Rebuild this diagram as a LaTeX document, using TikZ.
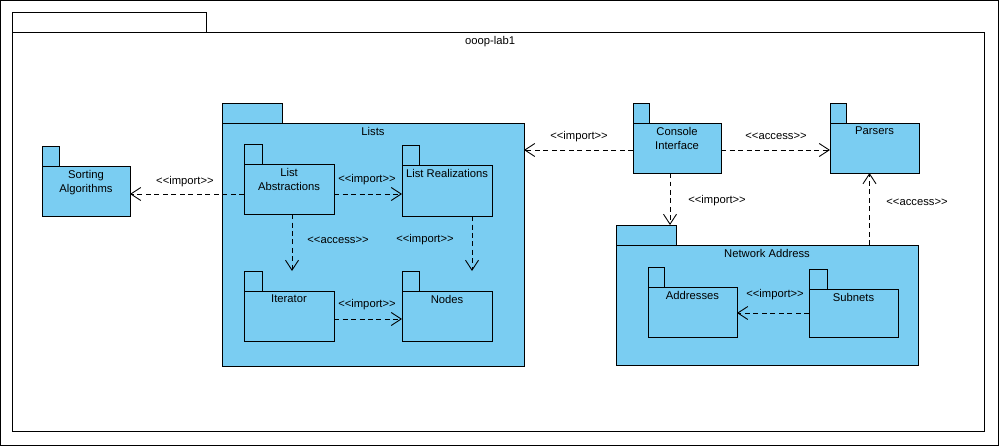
\documentclass[tikz,border=0pt]{standalone}
\usepackage{fontspec}
\setmainfont{Liberation Sans}
\usetikzlibrary{arrows.meta, calc}

\definecolor{pkgblue}{RGB}{122,205,242}
\newcommand{\vpfont}{\fontsize{6.4}{8.4}\selectfont}
\newcommand{\stereo}[1]{<{}<#1>{}>}

\begin{document}
\begin{tikzpicture}[
        x=0.02cm, y=-0.02cm,
        line width=0.5pt,
        pkg/.style 2 args={draw, fill=pkgblue, anchor=north west,
            inner sep=0pt, outer sep=0pt,
            minimum width=#1*0.02cm, minimum height=#2*0.02cm},
        tab/.style={pkg={#1}{20}},
        ptext/.style={anchor=north, align=center, inner sep=2pt, font=\vpfont},
        lbl/.style={font=\vpfont, inner sep=1pt},
        dep/.style={dashed, dash pattern=on 1mm off 0.7mm,
            -{Straight Barb[length=2mm, width=2.6mm, line width=0.5pt]}},
    ]
    \useasboundingbox (0,0) rectangle (999,446);

    % =============================================
    % MODEL FRAME
    % =============================================
    \draw (0.5,0.5) rectangle (998.5,445.5);

    \node[tab=194, fill=white]      (labT) at (12,12) {};
    \node[pkg={972}{399}, fill=white] (lab) at (12,32) {};
    \node[ptext] (labL) at (490,32) {ooop-lab1};

    % =============================================
    % LISTS
    % =============================================
    \node[tab=60]         (listsT) at (222,103) {};
    \node[pkg={302}{243}] (lists)  at (222,123) {};
    \node[ptext] (listsL) at (lists.north) {Lists};

    \node[tab=18]        (absT) at (244,144) {};
    \node[pkg={90}{50}]  (abs)  at (244,164) {};
    \node[ptext] (absL) at (abs.north) {List\\Abstractions};

    \node[tab=17]        (realT) at (402,145) {};
    \node[pkg={90}{51}]  (real)  at (402,165) {};
    \node[ptext] (realL) at (real.north) {List Realizations};

    \node[tab=18]        (iterT) at (244,271) {};
    \node[pkg={90}{50}]  (iter)  at (244,291) {};
    \node[ptext] (iterL) at (iter.north) {Iterator};

    \node[tab=17]        (nodesT) at (402,271) {};
    \node[pkg={90}{50}]  (nodes)  at (402,291) {};
    \node[ptext] (nodesL) at (nodes.north) {Nodes};

    % =============================================
    % SORTING, CONSOLE, PARSERS
    % =============================================
    \node[tab=17]        (sortT) at (42,146) {};
    \node[pkg={88}{50}]  (sort)  at (42,166) {};
    \node[ptext] (sortL) at (sort.north) {Sorting\\Algorithms};

    \node[tab=16]        (consT) at (633,103) {};
    \node[pkg={88}{50}]  (cons)  at (633,123) {};
    \node[ptext] (consL) at (cons.north) {Console\\Interface};

    \node[tab=16]        (parsT) at (830,103) {};
    \node[pkg={89}{50}]  (pars)  at (830,123) {};
    \node[ptext] (parsL) at (pars.north) {Parsers};

    % =============================================
    % NETWORK ADDRESS
    % =============================================
    \node[tab=60]         (netT) at (616,225) {};
    \node[pkg={302}{120}] (net)  at (616,245) {};
    \node[ptext] (netL) at (net.north) {Network Address};

    \node[tab=16]        (addrT) at (648,267) {};
    \node[pkg={89}{50}]  (addr)  at (648,287) {};
    \node[ptext] (addrL) at (addr.north) {Addresses};

    \node[tab=18]        (subT) at (809,269) {};
    \node[pkg={89}{48}]  (sub)  at (809,289) {};
    \node[ptext] (subL) at (sub.north) {Subnets};

    % Dependencies inside Lists
    \draw[dep] ([yshift=-0.1cm]abs.west) -- ([yshift=-0.1cm]abs.west -| sort.east);
    \draw[dep] ([yshift=-0.1cm]abs.east) -- ([yshift=-0.1cm]abs.east -| real.west);
    \draw[dep] ([xshift=0.06cm]abs.south) -- ([xshift=0.06cm]abs.south |- iterT.north);
    \draw[dep] ([xshift=0.5cm]real.south) -- ([xshift=0.5cm]real.south |- nodesT.north);
    \draw[dep] ([yshift=-0.06cm]iter.east) -- ([yshift=-0.06cm]iter.east -| nodes.west);

    % Dependencies of Console Interface
    \draw[dep] ([yshift=-0.04cm]cons.west) -- ([yshift=-0.04cm]cons.west -| lists.east);
    \draw[dep] ([yshift=-0.04cm]cons.east) -- ([yshift=-0.04cm]cons.east -| pars.west);
    \draw[dep] ([xshift=-0.14cm]cons.south) -- ([xshift=-0.14cm]cons.south |- netT.north);

    % Network Address
    \draw[dep] ([xshift=-0.1cm]pars.south |- net.north) -- ([xshift=-0.1cm]pars.south);
    \draw[dep] (sub.west) -- (sub.west -| addr.east);

    % Stereotypes
    \node[lbl] (s1)  at (185,182) {\stereo{import}};
    \node[lbl] (s2)  at (367,180) {\stereo{import}};
    \node[lbl] (s3)  at (338,240) {\stereo{access}};
    \node[lbl] (s4)  at (425,240) {\stereo{import}};
    \node[lbl] (s5)  at (367,305) {\stereo{import}};
    \node[lbl] (s6)  at (579,137) {\stereo{import}};
    \node[lbl] (s7)  at (776,136) {\stereo{access}};
    \node[lbl] (s8)  at (717,201) {\stereo{import}};
    \node[lbl] (s9)  at (917,202) {\stereo{access}};
    \node[lbl] (s10) at (775,295) {\stereo{import}};

\end{tikzpicture}
\end{document}
